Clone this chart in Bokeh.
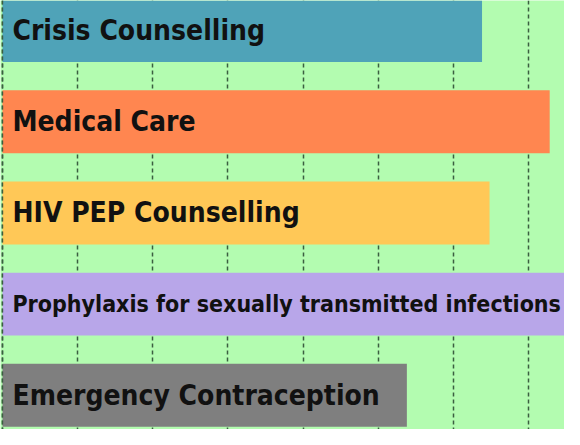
from bokeh.plotting import figure
from bokeh.models import ColumnDataSource, Range1d, SingleIntervalTicker, Span
from bokeh.core.properties import value
from bokeh.embed import file_html
from bokeh.resources import INLINE

categories = ["Crisis Counselling", "Medical Care", "HIV PEP Counselling",
              "Prophylaxis for sexually transmitted infections", "Emergency Contraception"]
values = [63.8, 72.8, 64.8, 80.0, 53.8]
colors = ["#4fa3b8", "#ff8650", "#ffc857", "#b8a6e9", "#7f7f7f"]
font_sizes = ["28px", "28px", "28px", "23px", "28px"]

positions = list(range(len(categories)))
src = ColumnDataSource(dict(pos=positions, val=values, cat=categories, color=colors,
                            zero=[0] * len(values), size=font_sizes))

p = figure(width=564, height=429, output_backend="svg", toolbar_location=None,
           x_range=Range1d(-0.26, 74.77), y_range=Range1d(4.375, -0.33),
           min_border=0, background_fill_color="#b3fcb0", border_fill_color="#b3fcb0",
           outline_line_color=None)
p.xaxis.visible = False
p.yaxis.visible = False
p.ygrid.visible = False
p.xgrid.ticker = SingleIntervalTicker(interval=10)
p.xgrid.grid_line_color = "#3b5e40"
p.xgrid.grid_line_width = 1.5
p.xgrid.grid_line_dash = "4 3"

p.hbar(y="pos", left="zero", right="val", height=0.69, color="color", line_color=None, source=src)
p.text(x="zero", y="pos", text="cat", x_offset=10, text_baseline="middle", text_align="left",
       text_font=value("DejaVu Sans Condensed"), text_font_style="bold", text_font_size="size",
       text_color="#111111", source=src)

p.add_layout(Span(location=0, dimension="height", line_color="#3b5e40", line_width=1.5,
                  line_dash="4 3", level="overlay"))

open("out.html", "w").write(file_html(p, INLINE))
